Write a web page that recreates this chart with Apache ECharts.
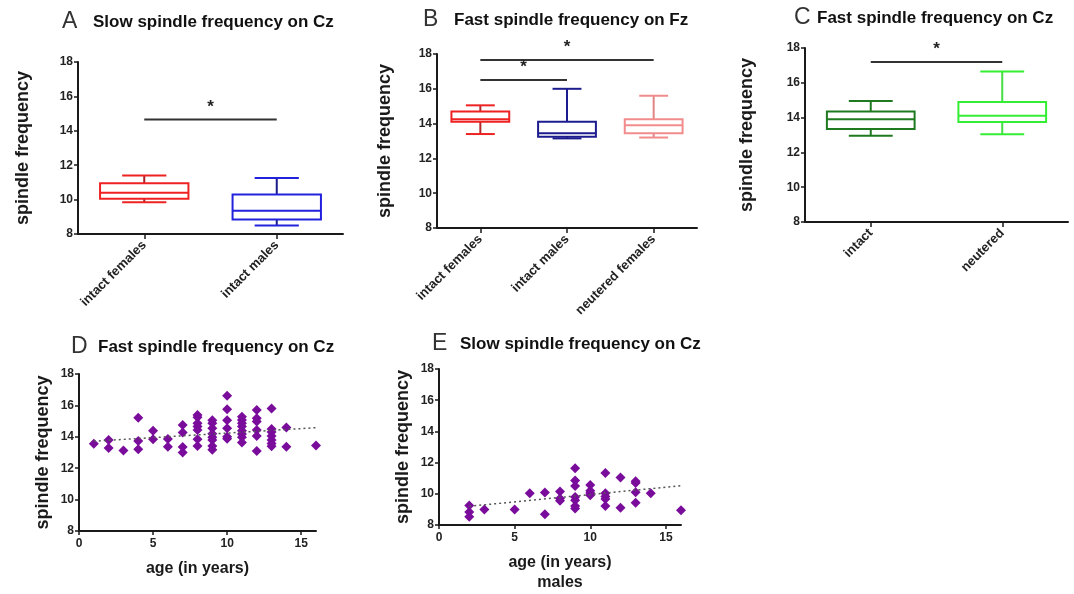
<!DOCTYPE html>
<html>
<head>
<meta charset="utf-8">
<script src="https://cdn.jsdelivr.net/npm/echarts@6/dist/echarts.min.js"></script>
<style>html,body{margin:0;padding:0;background:#fff;}#c{width:1074px;height:594px;}</style>
</head>
<body>
<div id="c"></div>
<script>
// ---------- DATA ----------
var catsA = ['intact females', 'intact males'];
var boxA = [ // [min, Q1, median, Q3, max]
  [9.85, 10.05, 10.4, 10.95, 11.4],
  [8.5, 8.85, 9.35, 10.3, 11.25]
];
var sigA = [[0, 1, 14.65]];

var catsB = ['intact females', 'intact males', 'neutered females'];
var boxB = [
  [13.4, 14.1, 14.25, 14.7, 15.05],
  [13.15, 13.25, 13.45, 14.1, 16.0],
  [13.2, 13.45, 13.9, 14.25, 15.6]
];
var sigB = [[0, 2, 17.65], [0, 1, 16.5]];

var catsC = ['intact', 'neutered'];
var boxC = [
  [12.95, 13.35, 13.9, 14.35, 14.95],
  [13.05, 13.75, 14.1, 14.9, 16.65]
];
var sigC = [[0, 1, 17.2]];

var ageD = [1, 2, 2, 3, 4, 4, 4, 5, 5, 6, 6, 7, 7, 7, 7,
  8, 8, 8, 8, 8, 8, 8, 9, 9, 9, 9, 9, 9, 9, 9,
  10, 10, 10, 10, 10, 10, 11, 11, 11, 11, 11, 11, 11, 11,
  12, 12, 12, 12, 12, 12, 13, 13, 13, 13, 13, 13, 13, 14, 14, 16];
var freqD = [13.55, 13.8, 13.28, 13.12, 15.22, 13.74, 13.2, 14.38, 13.84, 13.86, 13.37, 14.75, 14.28, 13.35, 13.0,
  15.39, 15.25, 14.86, 14.65, 14.43, 13.84, 13.41, 15.05, 14.86, 14.54, 14.2, 13.97, 13.8, 13.41, 13.18,
  16.62, 15.76, 15.05, 14.54, 14.0, 13.88, 15.28, 15.07, 14.86, 14.65, 14.39, 14.18, 13.97, 13.63,
  15.71, 15.18, 14.97, 14.43, 14.05, 13.1, 15.8, 14.5, 14.3, 14.05, 13.8, 13.58, 13.4, 14.6, 13.37, 13.45];
var trendD = [[1, 13.72], [16, 14.58]];

var ageE = [2, 2, 2, 3, 5, 6, 7, 7, 8, 8, 8, 9, 9, 9, 9, 9, 9, 9,
  10, 10, 10, 10, 11, 11, 11, 11, 11, 12, 12, 13, 13, 13, 13, 14, 16];
var freqE = [9.25, 8.84, 8.53, 9.0, 9.0, 10.04, 10.08, 8.69, 10.14, 9.7, 9.55, 11.64, 10.85, 10.5, 9.79, 9.58, 9.22, 9.06,
  10.56, 10.2, 10.05, 9.9, 11.33, 10.04, 9.83, 9.67, 9.21, 11.04, 9.1, 10.8, 10.7, 10.1, 9.42, 10.04, 8.94];
var trendE = [[2, 9.2], [16, 10.52]];

var yTicks = [8, 10, 12, 14, 16, 18];
var xTicks = [0, 5, 10, 15];

// ---------- STYLE ----------
var FONT = '"Liberation Sans", Arial, sans-serif';
var INK = '#1a1a1a';
var colorsA = ['#ee2222', '#2222dd'], stemA = ['#a52222', '#1a1a8a'];
var colorsB = ['#ee2222', '#1c1c8e', '#f28c8c'], stemB = ['#b02a2a', '#1c1c8e', '#e08585'];
var colorsC = ['#1f7a1f', '#33ee33'], stemC = ['#1f7a1f', '#44dd44'];
var PURPLE = '#7a0c9c';

function pairs(xs, ys) { return xs.map(function (x, i) { return [x, ys[i]]; }); }
function boxData(b) { return b.map(function (r, i) { return [i].concat(r); }); }

function boxRender(colors, stems) {
  return function (params, api) {
    var i = api.value(0);
    var c = colors[i], s = stems[i];
    var x = api.coord([i, api.value(3)])[0];
    var bw = api.size([1, 0])[0] * 0.667;
    var cw = bw / 2;
    var yMin = api.coord([i, api.value(1)])[1];
    var yQ1 = api.coord([i, api.value(2)])[1];
    var yMed = api.coord([i, api.value(3)])[1];
    var yQ3 = api.coord([i, api.value(4)])[1];
    var yMax = api.coord([i, api.value(5)])[1];
    var ls = function (col) { return { stroke: col, lineWidth: 2, fill: null }; };
    return {
      type: 'group',
      children: [
        { type: 'line', shape: { x1: x, y1: yQ3, x2: x, y2: yMax }, style: ls(s) },
        { type: 'line', shape: { x1: x, y1: yQ1, x2: x, y2: yMin }, style: ls(s) },
        { type: 'line', shape: { x1: x - cw / 2, y1: yMax, x2: x + cw / 2, y2: yMax }, style: ls(c) },
        { type: 'line', shape: { x1: x - cw / 2, y1: yMin, x2: x + cw / 2, y2: yMin }, style: ls(c) },
        { type: 'rect', shape: { x: x - bw / 2, y: yQ3, width: bw, height: yQ1 - yQ3 }, style: { stroke: c, lineWidth: 2, fill: '#fff' } },
        { type: 'line', shape: { x1: x - bw / 2, y1: yMed, x2: x + bw / 2, y2: yMed }, style: ls(c) }
      ]
    };
  };
}

function sigRender(params, api) {
  var p1 = api.coord([api.value(0), api.value(2)]);
  var p2 = api.coord([api.value(1), api.value(2)]);
  return {
    type: 'group',
    children: [
      { type: 'line', shape: { x1: p1[0], y1: p1[1], x2: p2[0], y2: p2[1] }, style: { stroke: '#333', lineWidth: 2 } },
      { type: 'text', x: (p1[0] + p2[0]) / 2, y: p1[1] - 4,
        style: { text: '*', font: 'bold 17px ' + FONT, fill: '#222', align: 'center', verticalAlign: 'bottom' } }
    ]
  };
}

function yAxis(gi, gap) {
  return {
    gridIndex: gi, type: 'value', min: 8, max: 18, interval: 2,
    name: 'spindle frequency', nameLocation: 'middle', nameGap: gap, nameRotate: 90,
    nameTextStyle: { fontFamily: FONT, fontWeight: 'bold', fontSize: 18, color: INK },
    axisLine: { show: true, lineStyle: { color: INK, width: 2 } },
    axisTick: { show: true, length: 4, lineStyle: { color: INK, width: 1.5 } },
    axisLabel: { fontFamily: FONT, fontWeight: 'bold', fontSize: 12, color: '#222', margin: 5 },
    splitLine: { show: false }
  };
}
function catAxis(gi, cats) {
  return {
    gridIndex: gi, type: 'category', data: cats, boundaryGap: true,
    axisLine: { show: true, lineStyle: { color: INK, width: 2 } },
    axisTick: { show: true, alignWithLabel: true, length: 5, lineStyle: { color: INK, width: 1.5 } },
    axisLabel: { rotate: 45, fontFamily: FONT, fontWeight: 'bold', fontSize: 13, color: '#222', margin: 9 },
    splitLine: { show: false }
  };
}
function ageAxis(gi, name) {
  return {
    gridIndex: gi, type: 'value', min: 0, max: 16,
    name: name, nameLocation: 'middle', nameGap: 28,
    nameTextStyle: { fontFamily: FONT, fontWeight: 'bold', fontSize: 16, color: INK, lineHeight: 20 },
    axisLine: { show: true, lineStyle: { color: INK, width: 2 } },
    axisTick: { show: true, length: 4, customValues: xTicks, lineStyle: { color: INK, width: 1.5 } },
    axisLabel: { fontFamily: FONT, fontWeight: 'bold', fontSize: 12, color: '#222', margin: 7, customValues: xTicks },
    splitLine: { show: false }
  };
}

function title(letter, lx, text, tx, y) {
  return [
    { type: 'text', x: lx, y: y, style: { text: letter, font: '23px ' + FONT, fill: '#333', verticalAlign: 'middle' } },
    { type: 'text', x: tx, y: y, style: { text: text, font: 'bold 17px ' + FONT, fill: '#111', verticalAlign: 'middle' } }
  ];
}

var option = {
  animation: false,
  backgroundColor: '#fff',
  graphic: [].concat(
    title('A', 62, 'Slow spindle frequency on Cz', 93, 22),
    title('B', 423, 'Fast spindle frequency on Fz', 454, 20),
    title('C', 794, 'Fast spindle frequency on Cz', 817, 18),
    title('D', 71, 'Fast spindle frequency on Cz', 98, 347),
    title('E', 432, 'Slow spindle frequency on Cz', 460, 344)
  ),
  grid: [
    { left: 78, top: 62, width: 265, height: 172 },
    { left: 437, top: 54, width: 260, height: 174 },
    { left: 805, top: 48, width: 263, height: 174 },
    { left: 79, top: 374, width: 237, height: 157 },
    { left: 439, top: 369, width: 242, height: 160 }
  ],
  xAxis: [
    catAxis(0, catsA), catAxis(1, catsB), catAxis(2, catsC),
    ageAxis(3, 'age (in years)'), ageAxis(4, 'age (in years)\nmales')
  ],
  yAxis: [yAxis(0, 46), yAxis(1, 43), yAxis(2, 49), yAxis(3, 27), yAxis(4, 27)],
  series: [
    { type: 'custom', xAxisIndex: 0, yAxisIndex: 0, data: boxData(boxA), renderItem: boxRender(colorsA, stemA), encode: { x: 0, y: [1, 2, 3, 4, 5] } },
    { type: 'custom', xAxisIndex: 1, yAxisIndex: 1, data: boxData(boxB), renderItem: boxRender(colorsB, stemB), encode: { x: 0, y: [1, 2, 3, 4, 5] } },
    { type: 'custom', xAxisIndex: 2, yAxisIndex: 2, data: boxData(boxC), renderItem: boxRender(colorsC, stemC), encode: { x: 0, y: [1, 2, 3, 4, 5] } },
    { type: 'custom', xAxisIndex: 0, yAxisIndex: 0, data: sigA, renderItem: sigRender, encode: { x: [0, 1], y: 2 } },
    { type: 'custom', xAxisIndex: 1, yAxisIndex: 1, data: sigB, renderItem: sigRender, encode: { x: [0, 1], y: 2 } },
    { type: 'custom', xAxisIndex: 2, yAxisIndex: 2, data: sigC, renderItem: sigRender, encode: { x: [0, 1], y: 2 } },
    { type: 'line', xAxisIndex: 3, yAxisIndex: 3, data: trendD, symbol: 'none', lineStyle: { color: '#555', width: 1.5, type: [2, 3] }, z: 3 },
    { type: 'line', xAxisIndex: 4, yAxisIndex: 4, data: trendE, symbol: 'none', lineStyle: { color: '#555', width: 1.5, type: [2, 3] }, z: 3 },
    { type: 'scatter', xAxisIndex: 3, yAxisIndex: 3, data: pairs(ageD, freqD), symbol: 'diamond', symbolSize: 10, itemStyle: { color: PURPLE, opacity: 1 }, z: 2 },
    { type: 'scatter', xAxisIndex: 4, yAxisIndex: 4, data: pairs(ageE, freqE), symbol: 'diamond', symbolSize: 10, itemStyle: { color: PURPLE, opacity: 1 }, z: 2 }
  ]
};
var chart = echarts.init(document.getElementById('c'), null, { renderer: 'canvas' });
chart.setOption(option);
</script>
</body>
</html>
